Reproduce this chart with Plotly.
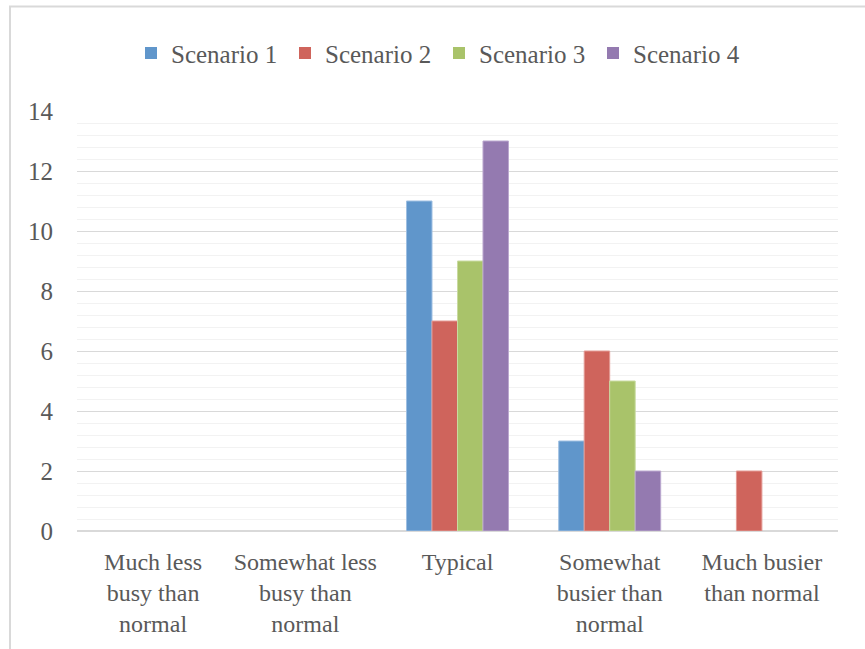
import plotly.graph_objects as go

# Survey responses: how busy the period was, by scenario
categories = [
    "Much less<br>busy than<br>normal",
    "Somewhat less<br>busy than<br>normal",
    "Typical",
    "Somewhat<br>busier than<br>normal",
    "Much busier<br>than normal",
]
scenario_names = ["Scenario 1", "Scenario 2", "Scenario 3", "Scenario 4"]
scenario_1 = [0, 0, 11, 3, 0]
scenario_2 = [0, 0, 7, 6, 2]
scenario_3 = [0, 0, 9, 5, 0]
scenario_4 = [0, 0, 13, 2, 0]
y_ticks = [0, 2, 4, 6, 8, 10, 12, 14]

series = [scenario_1, scenario_2, scenario_3, scenario_4]
fills = ["#6096CB", "#CF645C", "#A9C36A", "#947AB0"]
edges = ["#9EBFE2", "#E39A94", "#C9DBA0", "#BBA8CF"]

FONT = "Liberation Serif"
TEXT = "#595959"
GRID = "#D9D9D9"

fig = go.Figure()
for name, vals, fc, ec in zip(scenario_names, series, fills, edges):
    fig.add_trace(go.Bar(
        name=name, x=categories, y=vals,
        marker=dict(
            color=fc,
            # outline only on bars that have height
            line=dict(color=ec, width=[1 if v else 0 for v in vals]),
        ),
    ))

# chart frame (light grey border around the whole chart area)
L, R, T, B = 77, 27, 111, 116
W, H = 865 - L - R, 649 - T - B
fig.add_shape(
    type="rect", xref="paper", yref="paper",
    x0=(10 - L) / W, x1=(870 - L) / W,
    y0=(H + T - 655) / H, y1=1 + (T - 6) / H,
    line=dict(color=GRID, width=2), fillcolor="rgba(0,0,0,0)", layer="below",
)

fig.update_layout(
    width=865, height=649,
    margin=dict(l=L, r=R, t=T, b=B),
    paper_bgcolor="white", plot_bgcolor="white",
    barmode="group", bargap=0.33, bargroupgap=0,
    font=dict(family=FONT, size=24, color=TEXT),
    legend=dict(
        orientation="h", x=(439 - L) / W, xanchor="center",
        y=1 + (T - 53) / H, yanchor="middle",
        font=dict(family=FONT, size=25, color=TEXT),
        entrywidth=109, entrywidthmode="pixels",
        itemwidth=30, bgcolor="rgba(0,0,0,0)",
    ),
    xaxis=dict(
        showgrid=False, showline=False, ticks="",
        ticklabelstandoff=14,
        tickfont=dict(family=FONT, size=24, color=TEXT),
    ),
    yaxis=dict(
        range=[0, 14], tickvals=y_ticks, showline=False,
        gridcolor=GRID, gridwidth=1,
        zeroline=True, zerolinecolor=GRID, zerolinewidth=2,
        minor=dict(dtick=0.4, showgrid=True, gridcolor="#F2F2F2", gridwidth=1),
        ticks="", ticklabelstandoff=23,
        tickfont=dict(family=FONT, size=25, color=TEXT),
    ),
)

fig.write_html("out.html")
